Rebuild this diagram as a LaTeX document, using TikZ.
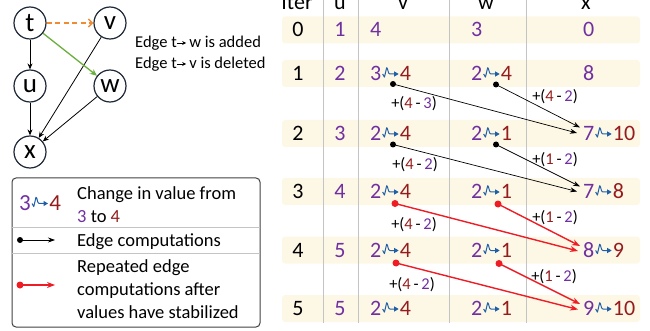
\documentclass[tikz,border=0pt]{standalone}
\usepackage{fontspec}
\setmainfont{Carlito}
\usetikzlibrary{arrows.meta}

\definecolor{valpurple}{HTML}{7030A0}
\definecolor{valred}{HTML}{951C1C}
\definecolor{chgblue}{HTML}{1F5FA8}
\definecolor{bandfill}{HTML}{FDF7E6}
\definecolor{gridgray}{HTML}{C4C4C4}
\definecolor{repred}{HTML}{EE1C25}
\definecolor{addgreen}{HTML}{6AAE3C}
\definecolor{delorange}{HTML}{F28A30}
\definecolor{nodeline}{HTML}{1E2838}

\tikzset{
  chgarrow/.style={draw=chgblue, line width=1pt, line join=round,
    -{Triangle[length=4.5pt,width=5pt]}},
}
% blue squiggle arrow between an old and a new value
\newcommand{\chg}{\kern0.8pt\tikz[baseline=0pt,x=1pt,y=1pt]
  \draw[chgarrow] (0,6.5) -- (1.8,3.4) -- (4,12.8) .. controls (5.4,12.8) and (5.1,6.5) .. (7.2,6.5) -- (16,6.5);\kern0.8pt}
\newcommand{\pv}[1]{\textcolor{valpurple}{#1}}
\newcommand{\rv}[1]{\textcolor{valred}{#1}}
\newcommand{\ch}[2]{\pv{#1}\chg\rv{#2}}
\newcommand{\sarrow}{\tikz[baseline=-0.5pt,x=1pt,y=1pt]\draw[line width=0.8pt,-{Stealth[length=4pt,width=4pt]}] (0,4) -- (9,4);}

\begin{document}
\begin{tikzpicture}[x=1pt,y=-1pt,
  gnode/.style={circle, draw=nodeline, line width=1.2pt, minimum size=32pt,
    inner sep=0pt, font=\fontsize{27}{27}\selectfont},
  gedge/.style={draw=black, line width=0.8pt, -{Stealth[length=6pt,width=5pt]}},
  added/.style={draw=addgreen, line width=1.3pt, -{Stealth[length=7pt,width=6pt]}},
  deleted/.style={draw=delorange, line width=1.4pt, dashed, dash pattern=on 5pt off 3.5pt,
    -{Straight Barb[length=4pt,width=8pt]}},
  note/.style={anchor=base west, inner sep=0pt, font=\fontsize{16.5}{18}\selectfont},
  legtext/.style={anchor=base west, inner sep=0pt, font=\fontsize{18.5}{20}\selectfont},
  band/.style={fill=bandfill, rounded corners=3pt},
  gridline/.style={draw=gridgray, line width=1pt},
  cell/.style={anchor=base, inner sep=0pt, font=\fontsize{22}{22}\selectfont},
  cellw/.style={anchor=base west, inner sep=0pt, font=\fontsize{22}{22}\selectfont},
  head/.style={anchor=base, inner sep=0pt, font=\fontsize{22}{22}\selectfont},
  elabel/.style={inner sep=0pt, font=\fontsize{16.5}{16.5}\selectfont},
  edgecomp/.style={draw=black, line width=0.7pt, -{Stealth[length=7pt,width=5pt]}},
  repcomp/.style={draw=repred, line width=1.4pt, -{Stealth[length=8pt,width=6pt]}},
]
\useasboundingbox (0,0) rectangle (650,331);

% ---------- dependency graph ----------
\node[gnode] (t) at (30,23) {t};
\node[gnode] (v) at (110,23) {v};
\node[gnode] (u) at (30,86) {u};
\node[gnode] (w) at (110,86) {w};
\node[gnode] (x) at (30,152) {x};
\draw[gedge] (t) -- (u);
\draw[gedge] (u) -- (x);
\draw[gedge] (v) -- (x);
\draw[gedge] (w) -- (x);
\draw[added] (t) -- (w);
\draw[deleted] (t) -- (v);

\node[note] (n1) at (135,47.5) {Edge t\sarrow\,w is added};
\node[note] (n2) at (135,68.5) {Edge t\sarrow\,v is deleted};

% ---------- legend ----------
\draw[draw=black!75, line width=1pt, rounded corners=4pt] (12,178) rectangle (260,327);
\draw[gridline] (12,227) -- (260,227);
\draw[gridline] (12,253) -- (260,253);
\node[anchor=base, inner sep=0pt, font=\fontsize{23}{23}\selectfont] (lg1) at (40,210) {\ch{3}{4}};
\node[legtext] (lt1) at (77,200) {Change in value from};
\node[legtext] (lt2) at (77,222.5) {\pv{3} to \rv{4}};
\coordinate (lgs2) at (20,240);
\coordinate (lge2) at (55,240);
\fill[black] (lgs2) circle (3pt);
\draw[edgecomp] (lgs2) -- (lge2);
\node[legtext] (lt3) at (77,246.5) {Edge computations};
\coordinate (lgs3) at (20,285);
\coordinate (lge3) at (55,285);
\fill[repred] (lgs3) circle (3.5pt);
\draw[repcomp] (lgs3) -- (lge3);
\node[legtext] (lt4) at (77,272) {Repeated edge};
\node[legtext] (lt5) at (77,295) {computations after};
\node[legtext] (lt6) at (77,318) {values have stabilized};

% ---------- iteration table ----------
\foreach \yc in {30,73.5,133.5,191.5,250,308.5}
  \fill[band] (282,\yc-13.5) rectangle (640,\yc+13.5);
\foreach \xc in {323,358,449,526}
  \draw[gridline] (\xc,0) -- (\xc,323);

\node[head] (hi) at (297,9.5) {Iter};
\node[head] (hu) at (340,9.5) {u};
\node[head] (hv) at (403,9.5) {v};
\node[head] (hw) at (486,9.5) {w};
\node[head] (hx) at (586,9.5) {x};

% row 0
\node[cell] (i0) at (298,37) {0};
\node[cell] (u0) at (340,37) {\pv{1}};
\node[cellw] (v0) at (370,37) {\pv{4}};
\node[cellw] (w0) at (471,37) {\pv{3}};
\node[cellw] (x0) at (583,37) {\pv{0}};
% row 1
\node[cell] (i1) at (298,80.5) {1};
\node[cell] (u1) at (340,80.5) {\pv{2}};
\node[cellw] (v1) at (370,80.5) {\ch{3}{4}};
\node[cellw] (w1) at (471,80.5) {\ch{2}{4}};
\node[cellw] (x1) at (583,80.5) {\pv{8}};
% row 2
\node[cell] (i2) at (298,140.5) {2};
\node[cell] (u2) at (340,140.5) {\pv{3}};
\node[cellw] (v2) at (370,140.5) {\ch{2}{4}};
\node[cellw] (w2) at (471,140.5) {\ch{2}{1}};
\node[cellw] (x2) at (583,140.5) {\ch{7}{10}};
% row 3
\node[cell] (i3) at (298,198.5) {3};
\node[cell] (u3) at (340,198.5) {\pv{4}};
\node[cellw] (v3) at (370,198.5) {\ch{2}{4}};
\node[cellw] (w3) at (471,198.5) {\ch{2}{1}};
\node[cellw] (x3) at (583,198.5) {\ch{7}{8}};
% row 4
\node[cell] (i4) at (298,257) {4};
\node[cell] (u4) at (340,257) {\pv{5}};
\node[cellw] (v4) at (370,257) {\ch{2}{4}};
\node[cellw] (w4) at (471,257) {\ch{2}{1}};
\node[cellw] (x4) at (583,257) {\ch{8}{9}};
% row 5
\node[cell] (i5) at (298,315.5) {5};
\node[cell] (u5) at (340,315.5) {\pv{5}};
\node[cellw] (v5) at (370,315.5) {\ch{2}{4}};
\node[cellw] (w5) at (471,315.5) {\ch{2}{1}};
\node[cellw] (x5) at (583,315.5) {\ch{9}{10}};

% edge computation start and end points
\coordinate (sv1) at (393,84);    \coordinate (sw1) at (496,84.5);
\coordinate (ev1) at (577,133);   \coordinate (ew1) at (580,127.5);
\coordinate (sv2) at (393,144.5); \coordinate (sw2) at (496,144.5);
\coordinate (ev2) at (577,191.5); \coordinate (ew2) at (580,186.5);
\coordinate (sv3) at (395,203.5); \coordinate (sw3) at (498,204);
\coordinate (ev3) at (578,251);   \coordinate (ew3) at (580,246);
\coordinate (sv4) at (396,263);   \coordinate (sw4) at (499,263.5);
\coordinate (ev4) at (578,309.5); \coordinate (ew4) at (580,304);

\foreach \r in {1,2}{
  \fill[black] (sv\r) circle (3pt);
  \fill[black] (sw\r) circle (3pt);
  \draw[edgecomp] (sv\r) -- (ev\r);
  \draw[edgecomp] (sw\r) -- (ew\r);
}
\foreach \r in {3,4}{
  \fill[repred] (sv\r) circle (3.5pt);
  \fill[repred] (sw\r) circle (3.5pt);
  \draw[repcomp] (sv\r) -- (ev\r);
  \draw[repcomp] (sw\r) -- (ew\r);
}

\node[elabel] (lv1) at (414,104) {+(\rv{4}\,-\,\pv{3})};
\node[elabel] (lw1) at (555,97) {+(\rv{4}\,-\,\pv{2})};
\node[elabel] (lv2) at (415,165) {+(\rv{4}\,-\,\pv{2})};
\node[elabel] (lw2) at (555,160) {+(\rv{1}\,-\,\pv{2})};
\node[elabel] (lv3) at (414,225) {+(\rv{4}\,-\,\pv{2})};
\node[elabel] (lw3) at (555,218) {+(\rv{1}\,-\,\pv{2})};
\node[elabel] (lv4) at (412,285) {+(\rv{4}\,-\,\pv{2})};
\node[elabel] (lw4) at (554,277) {+(\rv{1}\,-\,\pv{2})};
\end{tikzpicture}
\end{document}
